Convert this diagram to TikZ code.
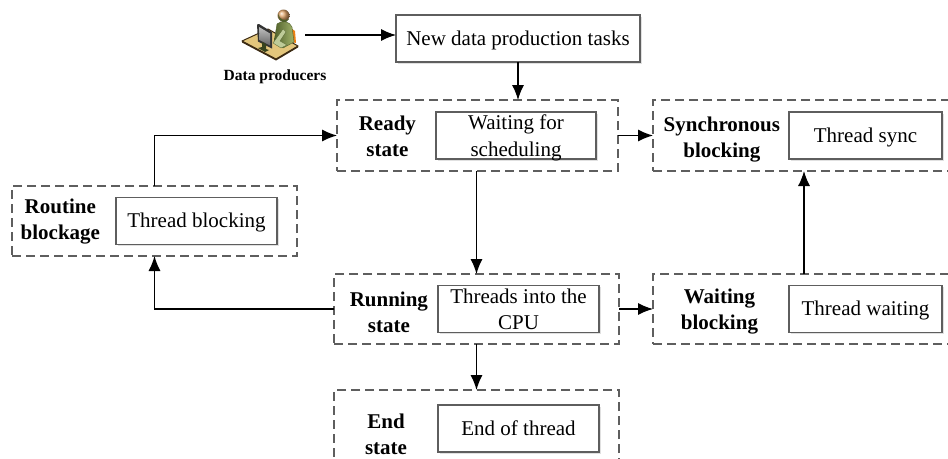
\documentclass[tikz,border=0pt]{standalone}
\usepackage{fontspec}
\setmainfont{Liberation Serif}
\usepackage{tikz}
\usetikzlibrary{positioning,arrows.meta,shadows}
\definecolor{deskcol}{HTML}{E3C67C}
\definecolor{edgecol}{HTML}{3B2A12}
\definecolor{suitcol}{HTML}{A3B56C}
\definecolor{suitdark}{HTML}{4F5F2A}
\definecolor{framecol}{HTML}{5E5E5E}

\begin{document}
\begin{tikzpicture}[x=1pt,y=-1pt,
				outerbox/.style={minimum height=70pt,outer sep=0pt,inner sep=0pt,draw=framecol,line width=1.2pt,dash pattern=on 9pt off 5pt,rectangle},
				inbox/.style={minimum width=161pt,minimum height=47pt,outer sep=0pt,inner sep=0pt,draw=framecol,line width=1.2pt,rectangle,fill=white,align=center,font=\fontsize{21}{26.5}\selectfont,drop shadow={shadow xshift=1.5pt,shadow yshift=-1.5pt,fill=black!12,opacity=1}},
				oneline/.style={text height=18.5pt,text depth=5pt},
				twolines/.style={text depth=0pt},
				statelbl/.style={outer sep=0pt,inner sep=0pt,align=center,font=\fontsize{21}{26}\selectfont\bfseries},
				arrow/.style={line width=1.2pt,-{Latex[length=15pt,width=12pt]}}]
				\path[use as bounding box,clip] (0,0) rectangle (948,458);
				
				\node (NEW)      [inbox,oneline,minimum width=244pt] at (518,38.5)  {New data production tasks};
				\node (READY)    [outerbox,minimum width=281pt,minimum height=71pt,below=38pt of NEW,xshift=-40.5pt] {};
				\node (SYNC)     [outerbox,minimum width=302pt,minimum height=71pt,right=35pt of READY] {};
				\node (RUNNING)  [outerbox,minimum width=285pt,below=103pt of READY,xshift=-1pt] {};
				\node (WAITING)  [outerbox,minimum width=302pt,below=103pt of SYNC] {};
				\node (END)      [outerbox,minimum width=285pt,minimum height=72pt,below=46pt of RUNNING] {};
				\node (ROUTINE)  [outerbox,minimum width=285pt] at (154.5,221) {};
				
				\node (READYIN)   [inbox,twolines,minimum width=160pt,left=22pt of READY.east]  {Waiting for\\scheduling};
				\node (SYNCIN)    [inbox,oneline,minimum width=153pt,left=13pt of SYNC.east]    {Thread sync};
				\node (RUNNINGIN) [inbox,twolines,left=20pt of RUNNING.east] {Threads into the\\CPU};
				\node (WAITINGIN) [inbox,oneline,minimum width=153pt,left=13pt of WAITING.east] {Thread waiting};
				\node (ENDIN)     [inbox,oneline,left=20pt of END.east,yshift=-2.5pt] {End of thread};
				\node (ROUTINEIN) [inbox,oneline,left=20pt of ROUTINE.east] {Thread blocking};
				
				\node (READYLBL)   [statelbl,left=20pt of READYIN.west,yshift=-1pt] {Ready\\state};
				\node (SYNCLBL)    [statelbl,left=9pt of SYNCIN.west,yshift=-4pt]   {Synchronous\\blocking};
				\node (RUNNINGLBL) [statelbl,left=10pt of RUNNINGIN.west,yshift=-3pt] {Running\\state};
				\node (WAITINGLBL) [statelbl,left=31pt of WAITINGIN.west,yshift=-3pt] {Waiting\\blocking};
				\node (ENDLBL)     [statelbl,left=31pt of ENDIN.west,yshift=-6pt]   {End\\state};
				\node (ROUTINELBL) [statelbl,left=16pt of ROUTINEIN.west,yshift=-1pt] {Routine\\blockage};
				
				\node (PRODUCERS) [font=\fontsize{15.5}{18}\selectfont\bfseries,inner sep=0pt] at (275,77) {Data producers};
				\coordinate (DESK) at (305,35);
				
				% person at the desk
				\fill[deskcol,draw=edgecol,line width=1pt,line join=round] (242,41) -- (268,29) -- (298,46) -- (276,59) -- cycle;
				\fill[edgecol] (242,41) -- (276,59) -- (298,46) -- (298,47.5) -- (276,60.5) -- (242,42.5) -- cycle;
				\fill[orange!70!brown] (292,29) -- (295,31) -- (296,43) -- (292,42) -- cycle;
				\shade[left color=suitdark,right color=suitcol,draw=suitdark,line width=.4pt] (277,24) .. controls (281,20) and (290,21) .. (292,27) -- (294,42) -- (283,48) -- (274,42) -- cycle;
				\fill[suitcol!70!white,draw=suitdark,line width=.3pt] (283,29) -- (286,32) -- (280,41) -- (287,45) -- (281,48) -- (273,43) -- cycle;
				\shade[ball color=orange!35!brown!70!white] (283.5,15.5) circle (6);
				\fill[suitdark] (278,14) .. controls (280,20) and (284,21) .. (289,19) -- (286,22) .. controls (281,23) and (278,19) .. cycle;
				\fill[black!80] (257,24.5) -- (259,24) -- (272,32) -- (272,48.5) -- (258,41.5) -- cycle;
				\shade[top color=black!25,bottom color=black!60] (259,27) -- (270,33.5) -- (270,45.5) -- (259.5,40) -- cycle;
				\fill[suitdark!70!black] (262,42) -- (266,44) -- (266,49) -- (269,50) -- (265,52) -- (258,48) -- (262,47) -- cycle;
				
				\draw[arrow] (DESK) -- (NEW.west |- DESK);
				\draw[arrow] (NEW.south) -- (NEW.south |- READY.north);
				\draw[arrow] (RUNNING.north |- READY.south) -- (RUNNING.north);
				\draw[arrow] (READY.east) -- (SYNC.west);
				\draw[arrow] (RUNNING.east) -- (RUNNING.east -| WAITING.west);
				\draw[arrow] (WAITING.north) -- (SYNC.south);
				\draw[arrow] (RUNNING.south) -- (END.north);
				\draw[arrow] (ROUTINE.north) |- (READY.west);
				\draw[arrow] (RUNNING.west) -| (ROUTINE.south);
			\end{tikzpicture}
\end{document}
